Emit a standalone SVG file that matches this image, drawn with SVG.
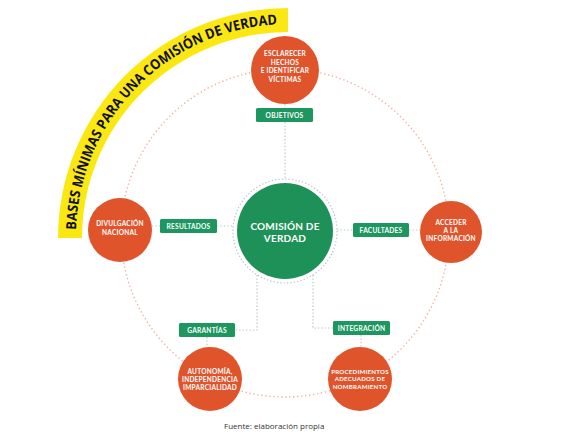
<svg xmlns="http://www.w3.org/2000/svg" width="581" height="440" viewBox="0 0 581 440">
<style>
.orbit{fill:none;stroke:#f0b3a0;stroke-width:1.4;stroke-dasharray:1.4 2.6}
.con{fill:none;stroke:#b7c6cb;stroke-width:1.2;stroke-dasharray:1.4 2}
.node{fill:#e0542c}
.nt{fill:#ffffff;font-family:Lato,"Open Sans","Liberation Sans",sans-serif;font-weight:700;font-size:6.5px;letter-spacing:0.25px;text-anchor:middle}
.nts{font-size:6.1px}
.box{fill:#1e9660}
.bt{fill:#ffffff;font-family:Lato,"Open Sans","Liberation Sans",sans-serif;font-weight:700;font-size:6.6px;letter-spacing:0.25px;text-anchor:middle}
.ct{fill:#ffffff;font-family:Lato,"Open Sans","Liberation Sans",sans-serif;font-weight:700;font-size:10px;letter-spacing:0.2px;text-anchor:middle}
.tt{font-family:"Open Sans","Liberation Sans",sans-serif;font-weight:700;font-size:14px;fill:#111111}
</style>
<defs>
<path id="arcText" d="M 76 236 A 212 212 0 0 1 288 24"/>
</defs>
<rect width="581" height="440" fill="#ffffff"/>
<g id="title">
<path d="M 58 238 A 230 230 0 0 1 288 8 L 288 32 A 206 206 0 0 0 82 238 Z" fill="#fbe813"/>
<text class="tt"><textPath href="#arcText" startOffset="6" textLength="39" lengthAdjust="spacingAndGlyphs">BASES</textPath></text>
<text class="tt"><textPath href="#arcText" startOffset="48.3" textLength="59.1" lengthAdjust="spacingAndGlyphs">MÍNIMAS</textPath></text>
<text class="tt"><textPath href="#arcText" startOffset="110.8" textLength="34.2" lengthAdjust="spacingAndGlyphs">PARA</textPath></text>
<text class="tt"><textPath href="#arcText" startOffset="148.3" textLength="28.6" lengthAdjust="spacingAndGlyphs">UNA</textPath></text>
<text class="tt"><textPath href="#arcText" startOffset="180.2" textLength="66.7" lengthAdjust="spacingAndGlyphs">COMISIÓN</textPath></text>
<text class="tt"><textPath href="#arcText" startOffset="250.2" textLength="16.7" lengthAdjust="spacingAndGlyphs">DE</textPath></text>
<text class="tt"><textPath href="#arcText" startOffset="270.2" textLength="51.8" lengthAdjust="spacingAndGlyphs">VERDAD</textPath></text>
</g>
<circle class="orbit" cx="285" cy="233" r="164"/>
<g id="connectors">
<line class="con" x1="285" y1="104" x2="285" y2="108"/>
<line class="con" x1="285" y1="122" x2="285" y2="179"/>
<line class="con" x1="152" y1="226" x2="160" y2="226"/>
<line class="con" x1="217" y1="226" x2="234" y2="226"/>
<line class="con" x1="337" y1="230" x2="353" y2="230"/>
<line class="con" x1="409" y1="230" x2="420" y2="230"/>
<path class="con" d="M 257 275 L 257 330 L 235 330"/>
<path class="con" d="M 313 275 L 313 328 L 333 328"/>
<line class="con" x1="207" y1="337" x2="207" y2="349"/>
<line class="con" x1="361" y1="335" x2="361" y2="349"/>
<circle class="con" cx="285" cy="231" r="52"/>
</g>
<g id="center">
<circle cx="285" cy="231" r="48" fill="#1e9158"/>
<text class="ct" x="285" y="230">COMISIÓN DE</text>
<text class="ct" x="285" y="242">VERDAD</text>
</g>
<g id="n-esclarecer">
<circle class="node" cx="285" cy="70" r="34"/>
<text class="nt" x="285" y="56">ESCLARECER</text>
<text class="nt" x="285" y="64.5">HECHOS</text>
<text class="nt" x="285" y="73">E IDENTIFICAR</text>
<text class="nt" x="285" y="81.5">VÍCTIMAS</text>
</g>
<g id="n-divulgacion">
<circle class="node" cx="120" cy="230" r="32"/>
<text class="nt" x="120" y="225.5">DIVULGACIÓN</text>
<text class="nt" x="120" y="234.5">NACIONAL</text>
</g>
<g id="n-acceder">
<circle class="node" cx="451" cy="232" r="31"/>
<text class="nt" x="451" y="224.5">ACCEDER</text>
<text class="nt" x="451" y="232.5">A LA</text>
<text class="nt" x="451" y="240.5">INFORMACIÓN</text>
</g>
<g id="n-autonomia">
<circle class="node" cx="210" cy="379" r="32"/>
<text class="nt" x="210" y="373.5">AUTONOMÍA,</text>
<text class="nt" x="210" y="381.5">INDEPENDENCIA</text>
<text class="nt" x="210" y="389.5">IMPARCIALIDAD</text>
</g>
<g id="n-procedimientos">
<circle class="node" cx="360" cy="379" r="32"/>
<text class="nt nts" x="360" y="373.5">PROCEDIMIENTOS</text>
<text class="nt nts" x="360" y="381">ADECUADOS DE</text>
<text class="nt nts" x="360" y="388.5">NOMBRAMIENTO</text>
</g>
<g id="b-objetivos">
<rect class="box" x="256" y="108" width="57" height="14" rx="1.5"/>
<text class="bt" x="284.5" y="117.5">OBJETIVOS</text>
</g>
<g id="b-resultados">
<rect class="box" x="160" y="219" width="57" height="14" rx="1.5"/>
<text class="bt" x="188.5" y="228.5">RESULTADOS</text>
</g>
<g id="b-facultades">
<rect class="box" x="353" y="223" width="56" height="14" rx="1.5"/>
<text class="bt" x="381" y="232.5">FACULTADES</text>
</g>
<g id="b-garantias">
<rect class="box" x="179" y="323" width="56" height="14" rx="1.5"/>
<text class="bt" x="207" y="332.5">GARANTÍAS</text>
</g>
<g id="b-integracion">
<rect class="box" x="333" y="321" width="57" height="14" rx="1.5"/>
<text class="bt" x="361.5" y="330.5">INTEGRACIÓN</text>
</g>
<text x="224" y="429" font-family="Open Sans, Liberation Sans, sans-serif" font-size="8" fill="#333333">Fuente: elaboración propia</text>
</svg>
